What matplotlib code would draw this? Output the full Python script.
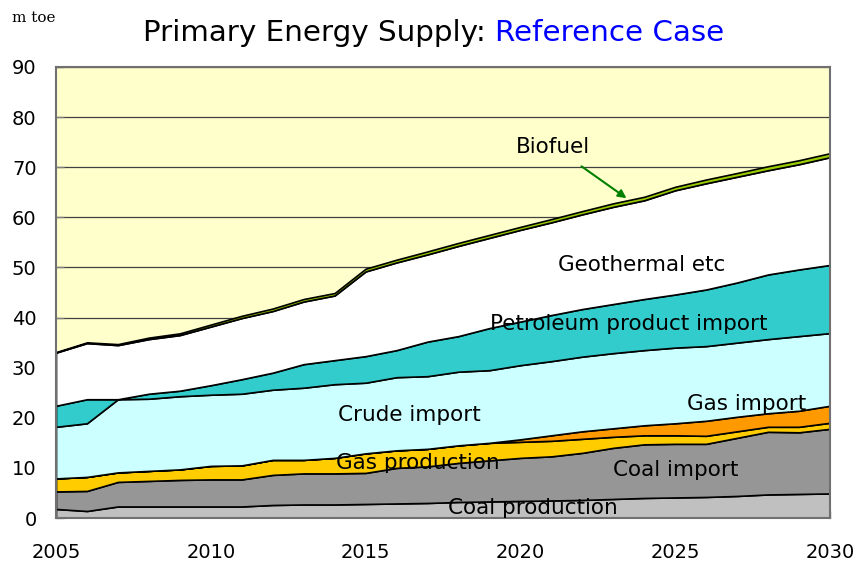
import matplotlib
matplotlib.use('Agg')
import matplotlib.pyplot as plt
from matplotlib.ticker import MultipleLocator
import numpy as np

# values, m toe per year
years = list(range(2005, 2031))

coal_prod = [1.8, 1.4, 2.3, 2.3, 2.3, 2.3, 2.3, 2.6, 2.7, 2.7, 2.8, 2.9, 3.0,
             3.2, 3.3, 3.4, 3.5, 3.6, 3.8, 4.0, 4.1, 4.2, 4.4, 4.7, 4.8, 4.9]
coal_imp = [3.5, 4.0, 4.9, 5.1, 5.3, 5.4, 5.4, 6.0, 6.2, 6.2, 6.2, 7.1, 7.3,
            7.8, 8.2, 8.6, 8.8, 9.4, 10.2, 10.7, 10.7, 10.6, 11.6, 12.5, 12.3, 12.9]
gas_prod = [2.6, 2.8, 1.9, 2.0, 2.1, 2.7, 2.8, 3.0, 2.7, 3.1, 3.9, 3.5, 3.5,
            3.5, 3.5, 3.2, 3.1, 2.8, 2.2, 1.8, 1.7, 1.6, 1.3, 1.0, 1.1, 1.2]
gas_imp = [0, 0, 0, 0, 0, 0, 0, 0, 0, 0, 0, 0, 0,
           0, 0, 0.5, 1.1, 1.5, 1.7, 2.0, 2.4, 3.0, 2.9, 2.7, 3.2, 3.4]
crude_imp = [10.3, 10.7, 14.6, 14.4, 14.6, 14.2, 14.3, 14.0, 14.4, 14.7, 14.1, 14.6, 14.5,
             14.7, 14.5, 14.8, 14.8, 14.9, 15.0, 15.0, 15.1, 14.9, 14.8, 14.8, 14.9, 14.5]
petro_imp = [4.2, 4.8, 0.0, 1.0, 1.1, 1.9, 2.9, 3.4, 4.7, 4.8, 5.3, 5.4, 6.9,
             7.1, 8.4, 8.7, 9.2, 9.5, 9.8, 10.2, 10.6, 11.3, 12.0, 12.9, 13.3, 13.6]
geothermal = [10.6, 11.2, 10.8, 10.9, 11.1, 11.7, 12.2, 12.3, 12.5, 12.9, 16.9, 17.5, 17.4,
              18.0, 18.0, 18.3, 18.5, 18.9, 19.4, 19.7, 20.8, 21.2, 21.1, 20.8, 21.0, 21.5]
biofuel = [0.1, 0.15, 0.2, 0.3, 0.35, 0.4, 0.45, 0.5, 0.5, 0.5, 0.55, 0.55, 0.6,
           0.6, 0.6, 0.6, 0.65, 0.65, 0.7, 0.7, 0.7, 0.75, 0.75, 0.8, 0.8, 0.8]

colors = ['#C0C0C0', '#969696', '#FFCC00', '#FF9900', '#CCFFFF',
          '#33CCCC', '#FFFFFF', '#99CC00']

fig = plt.figure(figsize=(8.57, 5.67), dpi=100)
ax = fig.add_axes([56/857, 49/567, 774/857, 451/567])
ax.set_facecolor('#FFFFCC')

ax.stackplot(years, coal_prod, coal_imp, gas_prod, gas_imp, crude_imp,
             petro_imp, geothermal, biofuel, colors=colors,
             edgecolor='black', linewidth=1.2, zorder=2)

ax.set_xlim(2005, 2030)
ax.set_ylim(0, 90)
ax.yaxis.set_major_locator(MultipleLocator(10))
ax.xaxis.set_major_locator(MultipleLocator(5))
ax.xaxis.set_minor_locator(MultipleLocator(1))
ax.grid(axis='y', color='#404040', linewidth=0.9, zorder=1)
ax.set_axisbelow(True)

ax.tick_params(axis='x', which='both', direction='in', length=5, width=1,
               color='#808080', pad=18, labelsize=14)
ax.tick_params(axis='y', which='both', direction='in', length=6, width=1,
               color='#808080', pad=14, labelsize=14)
for s in ax.spines.values():
    s.set_color('#707070')
    s.set_linewidth(1.5)
    s.set_zorder(5)

# labels inside the areas
lab = dict(fontsize=15.5, color='black', zorder=6)
ax.text(2022.25, 74.0, 'Biofuel', ha='right', va='center', **lab)
ax.text(2023.9, 50.5, 'Geothermal etc', ha='center', va='center', **lab)
ax.text(2023.5, 38.7, 'Petroleum product import', ha='center', va='center', **lab)
ax.text(2016.4, 20.6, 'Crude import', ha='center', va='center', **lab)
ax.text(2027.3, 22.8, 'Gas import', ha='center', va='center', **lab)
ax.text(2016.7, 11.0, 'Gas production', ha='center', va='center', **lab)
ax.text(2025.0, 9.6, 'Coal import', ha='center', va='center', **lab)
ax.text(2020.4, 2.0, 'Coal production', ha='center', va='center', **lab)
ax.annotate('', xy=(2023.5, 63.5), xytext=(2021.9, 70.5),
            arrowprops=dict(arrowstyle='-|>', color='#008000', lw=1.5,
                            mutation_scale=12), zorder=6)

# title in two colours
t1 = fig.text(143/857, 1 - 33/567, 'Primary Energy Supply: ', fontsize=21.2,
              ha='left', va='center')
fig.canvas.draw()
bb = t1.get_window_extent(renderer=fig.canvas.get_renderer())
fig.text(bb.x1 / fig.bbox.width, 1 - 33/567, 'Reference Case', fontsize=21.2,
         color='#0000FF', ha='left', va='center')

fig.text(12/857, 1 - 18/567, 'm toe', fontsize=11, family='DejaVu Serif',
         ha='left', va='center')

fig.savefig('out.png', dpi=100)
